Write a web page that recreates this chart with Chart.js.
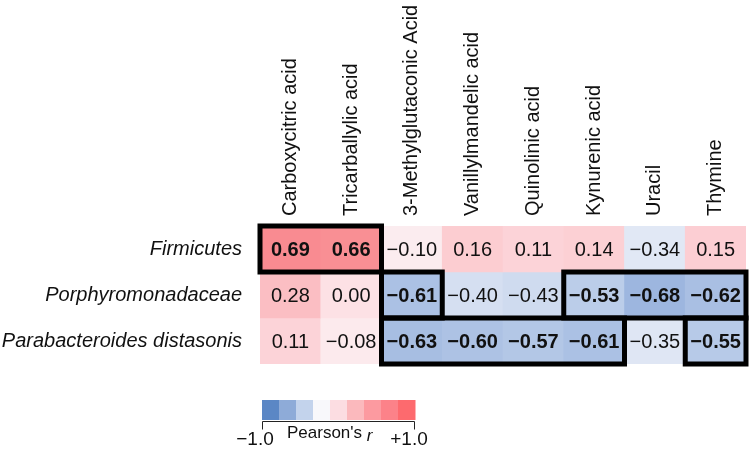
<!DOCTYPE html>
<html>
<head>
<meta charset="utf-8">
<script src="https://cdn.jsdelivr.net/npm/chart.js@4.4.1/dist/chart.umd.min.js"></script>
<style>
  html, body { margin: 0; padding: 0; background: #fff; }
  #wrap { width: 750px; height: 452px; }
</style>
</head>
<body>
<div id="wrap"><canvas id="heat"></canvas></div>
<script>
// ── data ────────────────────────────────────────────────────────────────
const metabolites = [
  'Carboxycitric acid', 'Tricarballylic acid', '3-Methylglutaconic Acid',
  'Vanillylmandelic acid', 'Quinolinic acid', 'Kynurenic acid', 'Uracil', 'Thymine',
]
const taxa = ['Firmicutes', 'Porphyromonadaceae', 'Parabacteroides distasonis']

const firmicutesR = [0.69, 0.66, -0.10, 0.16, 0.11, 0.14, -0.34, 0.15]
const porphyroR = [0.28, 0.00, -0.61, -0.40, -0.43, -0.53, -0.68, -0.62]
const parabactR = [0.11, -0.08, -0.63, -0.60, -0.57, -0.61, -0.35, -0.55]

// 1 = significant (bold, boxed)
const firmicutesSig = [1, 1, 0, 0, 0, 0, 0, 0]
const porphyroSig = [0, 0, 1, 0, 0, 1, 1, 1]
const parabactSig = [0, 0, 1, 1, 1, 1, 0, 1]

const colorbarTicks = ['\u22121.0', '+1.0']
const colorbarTitle = "Pearson's "

const values = [firmicutesR, porphyroR, parabactR]
const significant = [firmicutesSig, porphyroSig, parabactSig]

const FONT = "'Liberation Sans', Arial, sans-serif"
const TEXT = '#111111'

// colour scale stops (white sits a little below zero, as in the figure)
const colorStops = [
  [-1.0, [79, 127, 195]],
  [-0.68, [157, 182, 223]],
  [-0.5, [193, 209, 235]],
  [-0.22, [249, 249, 252]],
  [0.0, [253, 225, 229]],
  [1.0, [247, 101, 107]],
]
const colorbarColors = [
  '#5b87c5', '#8eabd8', '#c3d3ec', '#f8f8fb', '#fcdde2',
  '#fbb9bd', '#fc9aa0', '#fc8289', '#fd6a6e',
]

function cellColor(r) {
  for (let i = 1; i < colorStops.length; i++) {
    const [v0, c0] = colorStops[i - 1]
    const [v1, c1] = colorStops[i]
    if (r <= v1 || i === colorStops.length - 1) {
      const t = Math.max(0, Math.min(1, (r - v0) / (v1 - v0)))
      const c = c0.map((ch, k) => Math.round(ch + (c1[k] - ch) * t))
      return `rgb(${c[0]},${c[1]},${c[2]})`
    }
  }
}

function fmt(r) {
  const s = Math.abs(r).toFixed(2)
  return r < 0 && s !== '0.00' ? '\u2212' + s : s
}

// ── plugins ─────────────────────────────────────────────────────────────
const cellLabels = {
  id: 'cellLabels',
  afterDatasetsDraw(chart) {
    const ctx = chart.ctx
    ctx.save()
    ctx.textAlign = 'center'
    ctx.textBaseline = 'middle'
    ctx.fillStyle = TEXT
    values.forEach((rowVals, row) => {
      const meta = chart.getDatasetMeta(row)
      meta.data.forEach((bar, col) => {
        ctx.font = `${significant[row][col] ? 'bold ' : ''}20px ${FONT}`
        ctx.fillText(fmt(rowVals[col]), bar.x, (bar.y + bar.base) / 2 + 1)
      })
    })

    // thick boxes around runs of significant cells
    ctx.lineWidth = 5
    ctx.strokeStyle = '#000'
    significant.forEach((flags, row) => {
      const meta = chart.getDatasetMeta(row)
      let start = -1
      for (let c = 0; c <= flags.length; c++) {
        if (flags[c] && start < 0) start = c
        if (!flags[c] && start >= 0) {
          const a = meta.data[start]
          const b = meta.data[c - 1]
          const left = a.x - a.width / 2
          const right = b.x + b.width / 2
          const top = Math.min(a.y, a.base)
          const bottom = Math.max(a.y, a.base)
          ctx.strokeRect(left, top, right - left, bottom - top)
          start = -1
        }
      }
    })
    ctx.restore()
  },
}

const colorbar = {
  id: 'colorbar',
  afterDraw(chart) {
    const { ctx, chartArea } = chart
    const left = chartArea.left + 2
    const top = chartArea.bottom + 36
    const w = 153
    const h = 20
    const step = w / colorbarColors.length
    ctx.save()
    colorbarColors.forEach((c, i) => {
      ctx.fillStyle = c
      ctx.fillRect(left + i * step, top, step + 0.5, h)
    })

    // bracket under the bar
    const by = top + 21.5
    ctx.strokeStyle = '#222'
    ctx.lineWidth = 1
    ctx.beginPath()
    ctx.moveTo(left + 0.5, by + 8)
    ctx.lineTo(left + 0.5, by)
    ctx.lineTo(left + w - 0.5, by)
    ctx.lineTo(left + w - 0.5, by + 8)
    ctx.stroke()

    ctx.fillStyle = TEXT
    ctx.textBaseline = 'alphabetic'
    ctx.textAlign = 'center'
    ctx.font = `19px ${FONT}`
    ctx.fillText(colorbarTicks[0], left - 7, top + 45)
    ctx.fillText(colorbarTicks[1], left + w - 6, top + 45)

    ctx.textAlign = 'left'
    ctx.font = `17px ${FONT}`
    const tw = ctx.measureText(colorbarTitle).width
    const tx = left + 25
    ctx.fillText(colorbarTitle, tx, top + 38)
    ctx.font = `italic 17px ${FONT}`
    ctx.fillText('r', tx + tw, top + 41)
    ctx.restore()
  },
}

// ── chart: one floating-bar dataset per taxon row ───────────────────────
const datasets = taxa.map((name, row) => ({
  label: name,
  data: values[row].map(() => [row - 0.5, row + 0.5]),
  backgroundColor: values[row].map(cellColor),
  borderWidth: 0,
  borderSkipped: false,
  barPercentage: 1,
  categoryPercentage: 1,
  grouped: false,
}))

new Chart(document.getElementById('heat'), {
  type: 'bar',
  data: { labels: metabolites, datasets },
  options: {
    responsive: true,
    maintainAspectRatio: false,
    animation: false,
    layout: { padding: { top: 0, left: 0, right: 4, bottom: 88 } },
    plugins: {
      legend: { display: false },
      tooltip: { enabled: false },
    },
    scales: {
      x: {
        type: 'category',
        position: 'top',
        grid: { display: false, drawTicks: false },
        border: { display: false },
        ticks: {
          autoSkip: false,
          minRotation: 90,
          maxRotation: 90,
          padding: 10,
          labelOffset: 24,
          color: TEXT,
          font: { family: FONT, size: 20 },
        },
        afterFit: (axis) => { axis.height = 226 },
      },
      y: {
        type: 'linear',
        reverse: true,
        min: -0.5,
        max: 2.5,
        grid: { display: false, drawTicks: false },
        border: { display: false },
        afterBuildTicks: (axis) => { axis.ticks = taxa.map((_, i) => ({ value: i })) },
        ticks: {
          padding: 18,
          color: TEXT,
          font: { family: FONT, size: 20, style: 'italic' },
          callback: (v) => taxa[v],
        },
        afterFit: (axis) => { axis.width = 260 },
      },
    },
  },
  plugins: [cellLabels, colorbar],
})
</script>
</body>
</html>
